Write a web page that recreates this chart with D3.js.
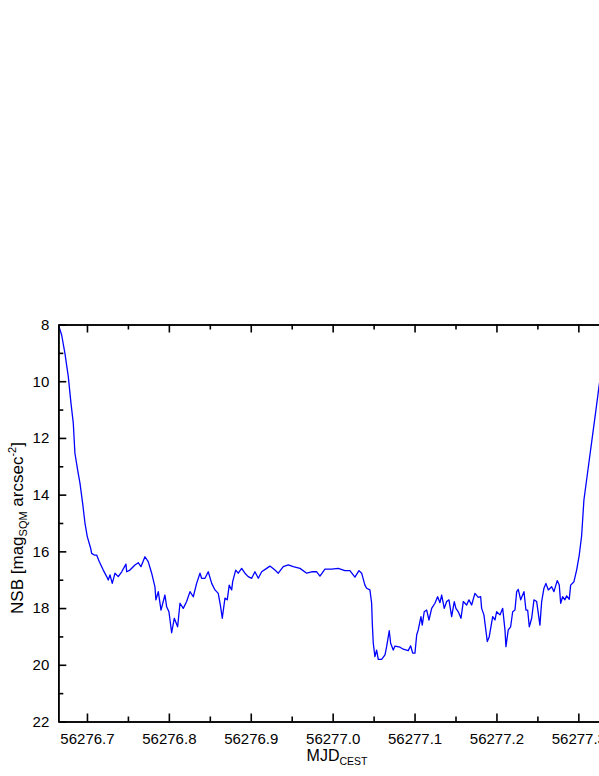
<!DOCTYPE html>
<html>
<head>
<meta charset="utf-8">
<script src="https://cdn.jsdelivr.net/npm/d3@7"></script>
<style>
  body { margin: 0; background: #fff; }
  svg { display: block; }
  text { font-family: "Liberation Sans", Arial, sans-serif; fill: #000; }
</style>
</head>
<body>
<svg id="chart" width="599" height="776"></svg>
<script>
// MJD (CEST) vs night sky brightness
var mjd = [
  56276.6650, 56276.6691, 56276.6731, 56276.6772, 56276.6805, 56276.6833, 56276.6853, 56276.6886,
  56276.6915, 56276.6947, 56276.6976, 56276.7004, 56276.7045, 56276.7057, 56276.7089, 56276.7118,
  56276.7150, 56276.7199, 56276.7241, 56276.7260, 56276.7281, 56276.7309, 56276.7342, 56276.7382,
  56276.7424, 56276.7476, 56276.7485, 56276.7525, 56276.7586, 56276.7626, 56276.7659, 56276.7708,
  56276.7748, 56276.7790, 56276.7830, 56276.7842, 56276.7871, 56276.7904, 56276.7952, 56276.7973,
  56276.8001, 56276.8034, 56276.8066, 56276.8107, 56276.8136, 56276.8176, 56276.8217, 56276.8258,
  56276.8298, 56276.8339, 56276.8380, 56276.8400, 56276.8441, 56276.8481, 56276.8523, 56276.8563,
  56276.8603, 56276.8632, 56276.8652, 56276.8685, 56276.8713, 56276.8737, 56276.8767, 56276.8779,
  56276.8816, 56276.8847, 56276.8889, 56276.8929, 56276.8969, 56276.9011, 56276.9051, 56276.9092,
  56276.9133, 56276.9194, 56276.9234, 56276.9295, 56276.9336, 56276.9397, 56276.9458, 56276.9519,
  56276.9601, 56276.9683, 56276.9744, 56276.9805, 56276.9845, 56276.9906, 56276.9988, 56277.0068,
  56277.0150, 56277.0211, 56277.0272, 56277.0321, 56277.0354, 56277.0394, 56277.0415, 56277.0455,
  56277.0476, 56277.0484, 56277.0496, 56277.0516, 56277.0537, 56277.0557, 56277.0598, 56277.0639,
  56277.0659, 56277.0691, 56277.0708, 56277.0740, 56277.0761, 56277.0822, 56277.0862, 56277.0923,
  56277.0952, 56277.0977, 56277.1005, 56277.1026, 56277.1045, 56277.1078, 56277.1094, 56277.1118,
  56277.1148, 56277.1176, 56277.1209, 56277.1249, 56277.1282, 56277.1310, 56277.1331, 56277.1363,
  56277.1392, 56277.1420, 56277.1453, 56277.1485, 56277.1505, 56277.1534, 56277.1567, 56277.1595,
  56277.1636, 56277.1664, 56277.1697, 56277.1737, 56277.1778, 56277.1807, 56277.1819, 56277.1847,
  56277.1888, 56277.1912, 56277.1954, 56277.1982, 56277.2002, 56277.2043, 56277.2076, 56277.2104,
  56277.2116, 56277.2144, 56277.2173, 56277.2198, 56277.2226, 56277.2247, 56277.2266, 56277.2296,
  56277.2336, 56277.2360, 56277.2381, 56277.2401, 56277.2430, 56277.2458, 56277.2491, 56277.2531,
  56277.2552, 56277.2580, 56277.2604, 56277.2633, 56277.2674, 56277.2702, 56277.2742, 56277.2767,
  56277.2784, 56277.2808, 56277.2836, 56277.2857, 56277.2889, 56277.2906, 56277.2946, 56277.2979,
  56277.3011, 56277.3040, 56277.3068, 56277.3117, 56277.3166, 56277.3215, 56277.3252, 56277.3300
];
var nsb = [
  8.00, 8.37, 9.02, 9.84, 10.78, 11.48, 12.54, 13.13,
  13.60, 14.30, 15.01, 15.48, 15.89, 16.07, 16.13, 16.13,
  16.36, 16.66, 16.89, 17.01, 16.83, 17.13, 16.77, 16.89,
  16.72, 16.45, 16.72, 16.66, 16.48, 16.40, 16.54, 16.19,
  16.36, 16.77, 17.25, 17.71, 17.42, 18.07, 17.54, 17.95,
  18.13, 18.87, 18.36, 18.66, 17.83, 18.01, 17.77, 17.42,
  17.60, 17.13, 16.77, 16.95, 16.95, 16.72, 17.13, 17.36,
  17.48, 17.95, 18.36, 17.65, 17.71, 17.19, 17.36, 17.07,
  16.66, 16.77, 16.60, 16.77, 16.89, 16.95, 16.72, 16.95,
  16.72, 16.60, 16.52, 16.66, 16.77, 16.54, 16.48, 16.54,
  16.60, 16.77, 16.72, 16.72, 16.87, 16.63, 16.63, 16.60,
  16.68, 16.68, 16.91, 16.68, 16.77, 17.19, 17.30, 17.36,
  17.83, 18.54, 19.24, 19.71, 19.48, 19.81, 19.81, 19.65,
  19.36, 18.80, 19.24, 19.48, 19.34, 19.38, 19.45, 19.50,
  19.33, 19.59, 19.59, 18.95, 18.77, 18.30, 18.60, 18.13,
  18.07, 18.42, 18.01, 17.83, 17.60, 17.81, 17.54, 18.01,
  17.77, 17.71, 18.30, 17.77, 18.01, 18.13, 18.36, 17.77,
  17.89, 17.71, 17.89, 17.48, 17.62, 17.60, 18.01, 18.24,
  19.18, 19.01, 18.30, 18.42, 18.13, 18.24, 18.01, 18.77,
  19.36, 18.77, 18.66, 18.13, 18.07, 17.42, 17.34, 17.71,
  17.42, 18.07, 18.07, 18.66, 18.36, 17.71, 17.77, 18.60,
  17.77, 17.30, 17.13, 17.36, 17.25, 17.42, 17.03, 17.19,
  17.83, 17.60, 17.71, 17.57, 17.69, 17.19, 17.07, 16.66,
  16.13, 15.45, 14.19, 13.13, 12.07, 11.01, 10.19, 9.25
];

var xMajor = [56276.7, 56276.8, 56276.9, 56277.0, 56277.1, 56277.2, 56277.3];
var xMinor = [56276.75, 56276.85, 56276.95, 56277.05, 56277.15, 56277.25, 56277.35];
var yMajor = [8, 10, 12, 14, 16, 18, 20, 22];
var yMinor = [9, 11, 13, 15, 17, 19, 21];

var plotL = 58.3, plotR = 619.3, plotT = 324.5, plotB = 721.5;

var svg = d3.select("#chart");

var x = d3.scaleLinear().domain([56276.665, 56277.35]).range([plotL, plotR]);
var y = d3.scaleLinear().domain([8, 22]).range([plotT, plotB]);

svg.append("defs").append("clipPath").attr("id", "plotclip")
  .append("rect")
  .attr("x", plotL).attr("y", plotT)
  .attr("width", plotR - plotL).attr("height", plotB - plotT);

var points = mjd.map(function (d, i) { return [d, nsb[i]]; });

var line = d3.line()
  .x(function (d) { return x(d[0]); })
  .y(function (d) { return y(d[1]); });

svg.append("path")
  .datum(points)
  .attr("clip-path", "url(#plotclip)")
  .attr("fill", "none")
  .attr("stroke", "#0000ff")
  .attr("stroke-width", 1.3)
  .attr("stroke-linejoin", "round")
  .attr("d", line);

function styleAxis(g) {
  g.select(".domain").attr("stroke", "#000").attr("stroke-width", 1.6);
  g.selectAll(".tick line").attr("stroke", "#000").attr("stroke-width", 1.6);
  g.selectAll(".tick text")
    .attr("font-family", "'Liberation Sans', Arial, sans-serif")
    .attr("font-size", 15)
    .attr("fill", "#000");
}

// bottom
svg.append("g").attr("transform", "translate(0," + plotB + ")")
  .call(d3.axisBottom(x).tickValues(xMajor).tickSizeInner(-8).tickSizeOuter(0).tickPadding(12)
    .tickFormat(d3.format(".1f")))
  .call(styleAxis);
svg.append("g").attr("transform", "translate(0," + plotB + ")")
  .call(d3.axisBottom(x).tickValues(xMinor).tickSizeInner(-5).tickSizeOuter(0).tickFormat(""))
  .call(styleAxis);

// top
svg.append("g").attr("transform", "translate(0," + plotT + ")")
  .call(d3.axisTop(x).tickValues(xMajor).tickSizeInner(-8).tickSizeOuter(0).tickFormat(""))
  .call(styleAxis);
svg.append("g").attr("transform", "translate(0," + plotT + ")")
  .call(d3.axisTop(x).tickValues(xMinor).tickSizeInner(-5).tickSizeOuter(0).tickFormat(""))
  .call(styleAxis);

// left
svg.append("g").attr("transform", "translate(" + plotL + ",0)")
  .call(d3.axisLeft(y).tickValues(yMajor).tickSizeInner(-8).tickSizeOuter(0).tickPadding(9)
    .tickFormat(d3.format("d")))
  .call(styleAxis);
svg.append("g").attr("transform", "translate(" + plotL + ",0)")
  .call(d3.axisLeft(y).tickValues(yMinor).tickSizeInner(-5).tickSizeOuter(0).tickFormat(""))
  .call(styleAxis);

// right (falls outside the visible window)
svg.append("line")
  .attr("x1", plotR).attr("x2", plotR).attr("y1", plotT).attr("y2", plotB)
  .attr("stroke", "#000").attr("stroke-width", 1.6);

// axis titles
var xt = svg.append("text")
  .attr("x", 337).attr("y", 761)
  .attr("text-anchor", "middle")
  .attr("font-size", 16);
xt.append("tspan").text("MJD");
xt.append("tspan").attr("font-size", 10.5).attr("dy", 4).text("CEST");

var yt = svg.append("text")
  .attr("transform", "translate(23,528) rotate(-90)")
  .attr("text-anchor", "middle")
  .attr("font-size", 17);
yt.append("tspan").text("NSB [mag");
yt.append("tspan").attr("font-size", 11).attr("dy", 4).text("SQM");
yt.append("tspan").attr("dy", -4).text(" arcsec");
yt.append("tspan").attr("font-size", 11).attr("dy", -7).text("-2");
yt.append("tspan").attr("dy", 7).text("]");
</script>
</body>
</html>
